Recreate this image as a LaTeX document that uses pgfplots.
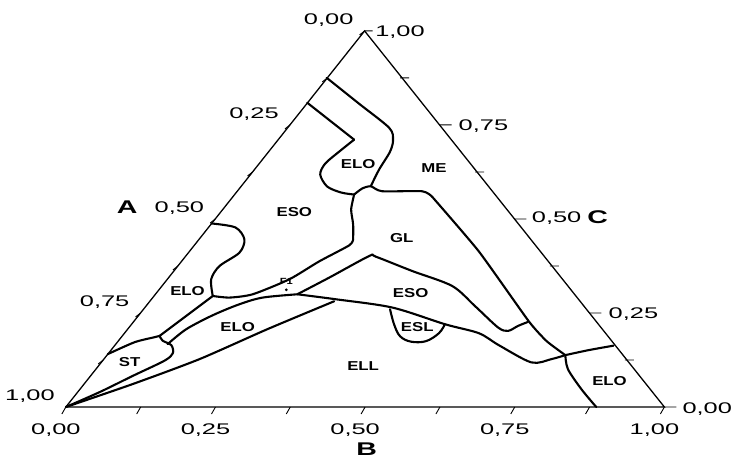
\documentclass[border=0pt]{standalone}
\usepackage{pgfplots}
\pgfplotsset{compat=1.18}
\usepackage{graphicx}
\usepackage{fontspec}
\setmainfont{Liberation Sans}
\newcommand{\tl}[1]{\scalebox{1.65}[1]{\fontsize{15.5}{15.5}\selectfont #1}}
\newcommand{\rl}[1]{\scalebox{1.3}[1]{\fontsize{13}{13}\selectfont\bfseries #1}}
\newcommand{\al}[1]{\scalebox{1.55}[1]{\fontsize{18.5}{18.5}\selectfont\bfseries #1}}
\pgfplotsset{pb/.style={black, line width=2.1bp, line join=round, line cap=round}}
\begin{document}
\begin{tikzpicture}
\begin{axis}[scale only axis, width=732bp, height=461bp,
  xmin=0, xmax=732, ymin=0, ymax=461, y dir=reverse,
  hide axis, clip=false]
\path (rel axis cs:0,0) rectangle (rel axis cs:1,1);
% triangle
\addplot[black, line width=1.3bp] coordinates {(66,408) (666,408) (365.5,31) (66,408)};
% ticks
\addplot[black, line width=0.9bp, unbounded coords=jump] coordinates {
(66,408) (62,415) (nan,nan) (141,408) (137,415) (nan,nan) (216,408) (212,415) (nan,nan)
(291,408) (287,415) (nan,nan) (366,408) (362,415) (nan,nan) (441,408) (437,415) (nan,nan)
(516,408) (512,415) (nan,nan) (591,408) (587,415) (nan,nan) (666,408) (662,415) (nan,nan)
(365.5,31) (360.5,35) (nan,nan) (328.06,78.13) (323.06,82.13) (nan,nan) (290.63,125.25) (285.63,129.25) (nan,nan)
(253.19,172.38) (248.19,176.38) (nan,nan) (215.75,219.5) (210.75,223.5) (nan,nan) (178.31,266.63) (173.31,270.63) (nan,nan)
(140.88,313.75) (135.88,317.75) (nan,nan) (103.44,360.88) (98.44,364.88) (nan,nan)
(666,408) (678,408) (nan,nan) (626.44,360.88) (635.44,360.88) (nan,nan) (590.88,313.75) (602.88,313.75) (nan,nan)
(551.31,266.63) (560.31,266.63) (nan,nan) (515.75,219.5) (527.75,219.5) (nan,nan) (476.19,172.38) (485.19,172.38) (nan,nan)
(440.63,125.25) (452.63,125.25) (nan,nan) (401.06,78.13) (410.06,78.13) (nan,nan) (365.5,31) (373.5,31)
};
% phase boundaries
\addplot[pb] coordinates {(308,103) (355,140)};
\addplot[pb, smooth, tension=0.5] coordinates {(355,140) (340,152) (326,164) (321,175) (328,187) (342,193) (355,195)};
\addplot[pb, smooth, tension=0.5] coordinates {(327.5,78) (360,104) (390,128) (394,140) (391,152) (380,170) (371.7,186.7)};
\addplot[pb, smooth, tension=0.4] coordinates {(355,195) (363,189) (371.7,186.7) (383,191.7) (423,191.7) (433,197)};
\addplot[pb, smooth, tension=0.3] coordinates {(433,197) (480,252) (530,322) (548,342) (566.7,356)};
\addplot[pb, smooth, tension=0.4] coordinates {(355,195) (352,210) (354,225) (354,240)};
\addplot[pb, smooth, tension=0.4] coordinates {(354,240) (350,246) (320,262) (290,280) (253.3,295) (230,298.3) (213.3,296.7)};
\addplot[pb, smooth, tension=0.5] coordinates {(212,224) (236,228) (245,240) (240,253.3) (220,266.7) (211.7,280) (213.3,296.7)};
\addplot[pb, smooth, tension=0.4] coordinates {(213.3,296.7) (186.7,316.7) (160,336.7)};
\addplot[pb, smooth, tension=0.4] coordinates {(108,355) (135,343) (155,338) (160,336.7)};
\addplot[pb, smooth, tension=0.5] coordinates {(160,336.7) (163,341.5) (171.7,346) (173.3,354) (165,361.5) (133.3,376.7) (100,393) (66,408)};
\addplot[pb, smooth, tension=0.5] coordinates {(168,345) (186.7,330) (213.3,316) (240,305) (263.3,298.3) (298,295)};
\addplot[pb, smooth, tension=0.5] coordinates {(298,295) (336.7,300) (393.3,308.3) (446,325) (480,334) (500,346) (532.7,363.3) (552.7,360) (566.7,356)};
\addplot[pb, smooth, tension=0.5] coordinates {(298,295) (330,278.3) (370,256.7) (376.7,257.3) (413.3,271.7) (453.3,286.7) (476,306.7) (499.3,328.3) (509.3,331.7) (519.3,326.7) (529.3,322.7)};
\addplot[pb, smooth, tension=0.4] coordinates {(66,408) (133,385) (200,360) (268,330) (335,302)};
\addplot[pb, smooth, tension=0.6] coordinates {(391,310) (395,325) (401,337) (412,342.5) (427,342) (440,334) (446,325)};
\addplot[pb, smooth, tension=0.5] coordinates {(566.7,356) (590,351) (615,346.5)};
\addplot[pb, smooth, tension=0.5] coordinates {(566.7,356) (569.3,370) (582.7,390) (597.7,408)};
% F1 point
\addplot[black, only marks, mark=*, mark size=1.2bp] coordinates {(287,290.5)};
% tick labels
\node[inner sep=0pt] at (axis cs:56,431) {\tl{0,00}};
\node[inner sep=0pt] at (axis cs:206,431) {\tl{0,25}};
\node[inner sep=0pt] at (axis cs:356,431) {\tl{0,50}};
\node[inner sep=0pt] at (axis cs:506,431) {\tl{0,75}};
\node[inner sep=0pt] at (axis cs:656,431) {\tl{1,00}};
\node[inner sep=0pt, anchor=east] at (axis cs:354.5,20) {\tl{0,00}};
\node[inner sep=0pt, anchor=east] at (axis cs:279.6,114.3) {\tl{0,25}};
\node[inner sep=0pt, anchor=east] at (axis cs:204.8,208.5) {\tl{0,50}};
\node[inner sep=0pt, anchor=east] at (axis cs:129.9,302.8) {\tl{0,75}};
\node[inner sep=0pt, anchor=east] at (axis cs:55,397) {\tl{1,00}};
\node[inner sep=0pt, anchor=west] at (axis cs:376,32) {\tl{1,00}};
\node[inner sep=0pt, anchor=west] at (axis cs:459.6,126) {\tl{0,75}};
\node[inner sep=0pt, anchor=west] at (axis cs:533,219) {\tl{0,50}};
\node[inner sep=0pt, anchor=west] at (axis cs:610,315) {\tl{0,25}};
\node[inner sep=0pt, anchor=west] at (axis cs:684,410) {\tl{0,00}};
\node[inner sep=0pt] at (axis cs:127.5,208) {\al{A}};
\node[inner sep=0pt] at (axis cs:367.5,450) {\al{B}};
\node[inner sep=0pt] at (axis cs:599,218) {\al{C}};
% region labels
\node[inner sep=0pt] at (axis cs:359,164.5) {\rl{ELO}};
\node[inner sep=0pt] at (axis cs:435,168) {\rl{ME}};
\node[inner sep=0pt] at (axis cs:295,213) {\rl{ESO}};
\node[inner sep=0pt] at (axis cs:402.7,238.3) {\rl{GL}};
\node[inner sep=0pt] at (axis cs:188,291.7) {\rl{ELO}};
\node[inner sep=0pt] at (axis cs:287,282) {\scalebox{1.25}[1]{\fontsize{9}{9}\selectfont\bfseries F1}};
\node[inner sep=0pt] at (axis cs:411.7,293.3) {\rl{ESO}};
\node[inner sep=0pt] at (axis cs:418.3,328.3) {\rl{ESL}};
\node[inner sep=0pt] at (axis cs:238.3,328.3) {\rl{ELO}};
\node[inner sep=0pt] at (axis cs:130,363.3) {\rl{ST}};
\node[inner sep=0pt] at (axis cs:364,367) {\rl{ELL}};
\node[inner sep=0pt] at (axis cs:611,381.7) {\rl{ELO}};
\end{axis}
\end{tikzpicture}
\end{document}
